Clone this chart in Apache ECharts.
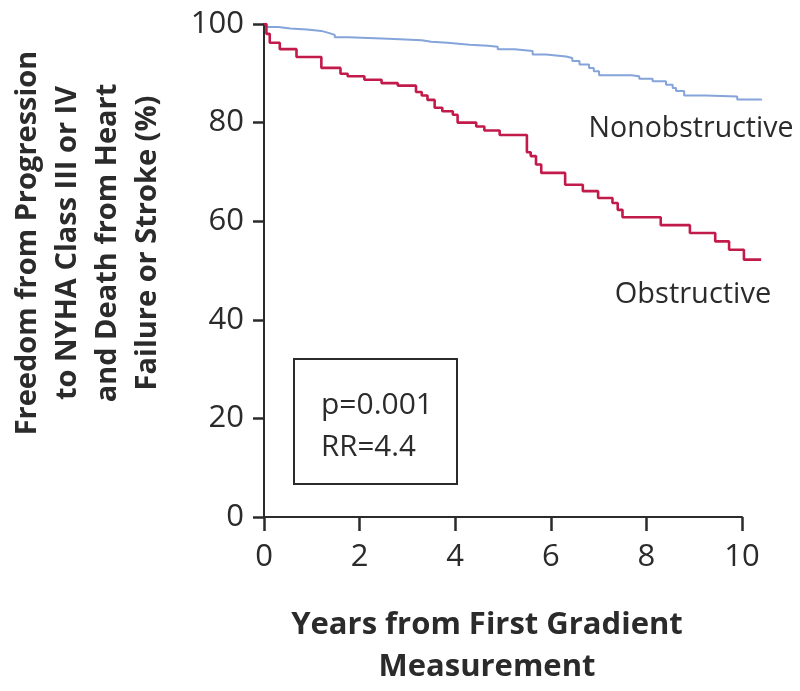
<!DOCTYPE html>
<html>
<head>
<meta charset="utf-8">
<title>Freedom from Progression — Kaplan-Meier</title>
<script src="https://cdn.jsdelivr.net/npm/echarts@6/dist/echarts.min.js"></script>
<style>
  html, body { margin: 0; padding: 0; background: #ffffff; }
  #chart { width: 800px; height: 691px; }
</style>
</head>
<body>
<div id="chart"></div>
<script>
// Years from first gradient measurement at which each curve steps, and the survival (%) after the step
const obstructiveYears = [0, 0.05, 0.12, 0.33, 0.68, 1.2, 1.6, 1.75, 2.1, 2.46, 2.8, 3.18, 3.3, 3.42, 3.57, 3.73, 3.95, 4.05, 4.44, 4.61, 4.93, 5.5, 5.58, 5.69, 5.8, 6.3, 6.67, 6.99, 7.29, 7.4, 7.5, 8.3, 8.91, 9.44, 9.73, 10.04, 10.4];
const obstructiveValues = [100, 98.0, 96.2, 94.9, 93.3, 91.1, 89.9, 89.4, 88.7, 88.0, 87.5, 86.2, 85.5, 84.6, 83.0, 82.3, 81.6, 80.0, 79.2, 78.4, 77.5, 74.0, 73.2, 71.5, 69.8, 67.4, 66.1, 64.7, 63.7, 62.3, 60.8, 59.2, 57.6, 55.9, 54.2, 52.2, 52.2];

const nonobstructiveYears = [0, 0.05, 0.3, 0.55, 0.9, 1.2, 1.35, 1.48, 1.76, 2.6, 3.3, 3.5, 3.84, 4.3, 4.68, 4.89, 5.24, 5.62, 5.9, 6.32, 6.45, 6.6, 6.8, 6.9, 7.01, 7.68, 7.85, 8.13, 8.41, 8.55, 8.62, 8.79, 9.24, 9.9, 10.4];
const nonobstructiveValues = [100, 99.4, 99.1, 98.9, 98.6, 98.2, 97.8, 97.3, 97.0, 96.7, 96.4, 96.2, 95.8, 95.6, 95.4, 94.9, 94.5, 93.8, 93.4, 93.1, 92.5, 91.8, 91.1, 90.4, 89.6, 89.4, 88.9, 88.4, 87.7, 87.0, 86.4, 85.5, 85.3, 84.7, 84.5];

const xTicks = [0, 2, 4, 6, 8, 10];
const yTicks = [0, 20, 40, 60, 80, 100];
// follow-up continues a little past the last labelled year
const followUpEnd = 10.4;

const statLines = ['p=0.001', 'RR=4.4'];
const yTitleLines = ['Freedom from Progression', 'to NYHA Class III or IV', 'and Death from Heart', 'Failure or Stroke (%)'];
const xTitleLines = ['Years from First Gradient', 'Measurement'];

const FONT = '"Open Sans", "Noto Sans", sans-serif';
const INK = '#2b2b2b';
const RED = '#c21a4b';
const BLUE = '#84a4da';

function pairs(xs, ys) {
  return xs.map((x, i) => [x, ys[i]]);
}

// Plot box: the labelled axis spans 0..10; the curves use a wider box with the same
// scale so they can run on to the end of follow-up.
const PLOT = { left: 264, top: 24, width: 478, height: 493 };
const xMax = xTicks[xTicks.length - 1];
const curveWidth = PLOT.width * (followUpEnd - xTicks[0]) / (xMax - xTicks[0]);

const chart = echarts.init(document.getElementById('chart'), null, { renderer: 'canvas' });

const axisLine = { show: true, lineStyle: { color: INK, width: 2 } };

chart.setOption({
  animation: false,
  backgroundColor: '#ffffff',
  grid: [
    { left: PLOT.left, top: PLOT.top, width: PLOT.width, height: PLOT.height, containLabel: false, outerBoundsMode: 'none' },
    { left: PLOT.left, top: PLOT.top, width: curveWidth, height: PLOT.height, containLabel: false, outerBoundsMode: 'none' }
  ],
  xAxis: [
    {
      gridIndex: 0,
      type: 'value',
      min: xTicks[0],
      max: xMax,
      interval: 2,
      axisLine: axisLine,
      axisTick: { show: true, inside: false, length: 14, lineStyle: { color: INK, width: 2.5 } },
      axisLabel: {
        color: INK, fontFamily: FONT, fontSize: 31, margin: 25,
        formatter: v => xTicks.includes(v) ? String(v) : ''
      },
      splitLine: { show: false }
    },
    {
      gridIndex: 1,
      type: 'value',
      min: xTicks[0],
      max: followUpEnd,
      show: false
    }
  ],
  yAxis: [
    {
      gridIndex: 0,
      type: 'value',
      min: yTicks[0],
      max: yTicks[yTicks.length - 1],
      interval: 20,
      axisLine: axisLine,
      axisTick: { show: true, inside: false, length: 11, lineStyle: { color: INK, width: 2.5 } },
      axisLabel: {
        color: INK, fontFamily: FONT, fontSize: 31, margin: 20,
        formatter: v => yTicks.includes(v) ? String(v) : ''
      },
      splitLine: { show: false }
    },
    {
      gridIndex: 1,
      type: 'value',
      min: yTicks[0],
      max: yTicks[yTicks.length - 1],
      show: false
    }
  ],
  series: [
    {
      name: 'Nonobstructive',
      type: 'line',
      xAxisIndex: 1,
      yAxisIndex: 1,
      step: 'end',
      showSymbol: false,
      data: pairs(nonobstructiveYears, nonobstructiveValues),
      lineStyle: { color: BLUE, width: 2 },
      z: 3
    },
    {
      name: 'Obstructive',
      type: 'line',
      xAxisIndex: 1,
      yAxisIndex: 1,
      step: 'end',
      showSymbol: false,
      data: pairs(obstructiveYears, obstructiveValues),
      lineStyle: { color: RED, width: 2.6 },
      z: 4
    }
  ],
  graphic: [
    {
      type: 'text', x: 691, y: 129,
      style: { text: 'Nonobstructive', fill: INK, font: '28.5px ' + FONT, textAlign: 'center', textVerticalAlign: 'middle' }
    },
    {
      type: 'text', x: 693, y: 295,
      style: { text: 'Obstructive', fill: INK, font: '29px ' + FONT, textAlign: 'center', textVerticalAlign: 'middle' }
    },
    {
      type: 'rect',
      shape: { x: 294, y: 359, width: 163, height: 125 },
      style: { fill: 'none', stroke: INK, lineWidth: 2 }
    },
    {
      type: 'text', x: 321, y: 405,
      style: { text: statLines[0], fill: INK, font: '30px ' + FONT, textAlign: 'left', textVerticalAlign: 'middle' }
    },
    {
      type: 'text', x: 321, y: 448,
      style: { text: statLines[1], fill: INK, font: '29.5px ' + FONT, textAlign: 'left', textVerticalAlign: 'middle' }
    },
    {
      type: 'text', x: 88, y: 243, rotation: Math.PI / 2,
      style: {
        text: yTitleLines.join('\n'), fill: INK, font: 'bold 29px ' + FONT,
        lineHeight: 40, textAlign: 'center', textVerticalAlign: 'middle'
      }
    },
    {
      type: 'text', x: 487, y: 646,
      style: {
        text: xTitleLines.join('\n'), fill: INK, font: 'bold 31px ' + FONT,
        lineHeight: 42, textAlign: 'center', textVerticalAlign: 'middle'
      }
    }
  ]
});
</script>
</body>
</html>
